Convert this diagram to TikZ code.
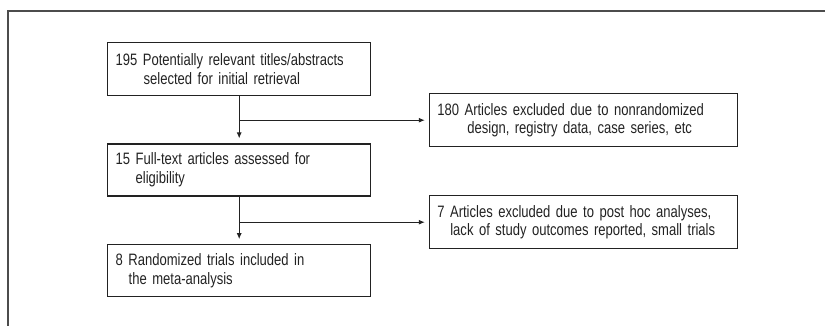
\documentclass[tikz,border=0pt]{standalone}
\usepackage{fontspec}
\setmainfont[FakeStretch=0.79]{Liberation Sans}
\usetikzlibrary{arrows.meta}
\definecolor{ink}{HTML}{222222}
\tikzset{
  flowbox/.style={draw=ink, line width=1.1pt, rectangle, align=left, anchor=center,
    inner xsep=8pt, inner ysep=0pt, text=ink,
    font=\fontsize{16.5pt}{18.7pt}\selectfont},
  conn/.style={draw=ink, line width=1pt, -{Latex[length=6pt,width=5pt]}},
}
\begin{document}
\begin{tikzpicture}[x=1pt,y=-1pt]
\useasboundingbox (0,0) rectangle (825,326);
\draw[line width=1.5pt, draw=black!70] (8,326) -- (8,11) -- (825,11);
\node[flowbox, minimum width=263pt, minimum height=53pt, text width=247pt] (b1) at (239.2,69.2)
  {195 Potentially relevant titles/abstracts\\\hspace*{28pt}selected for initial retrieval};
\node[flowbox, minimum width=263pt, minimum height=52pt, text width=247pt] (b2) at (239.2,170)
  {15 Full-text articles assessed for\\\hspace*{20pt}eligibility};
\node[flowbox, minimum width=263pt, minimum height=52pt, text width=247pt] (b3) at (239.2,270.7)
  {8 Randomized trials included in\\\hspace*{13pt}the meta-analysis};
\node[flowbox, minimum width=307.7pt, minimum height=53pt, text width=291.7pt] (r1) at (583.2,120.2)
  {180 Articles excluded due to nonrandomized\\\hspace*{30pt}design, registry data, case series, etc};
\node[flowbox, minimum width=307.7pt, minimum height=53pt, text width=291.7pt] (r2) at (583.2,222.2)
  {7 Articles excluded due to post hoc analyses,\\\hspace*{13pt}lack of study outcomes reported, small trials};
\draw[conn, shorten >=5pt] (b1.south) -- (b2.north);
\draw[conn, shorten >=5pt] (b2.south) -- (b3.north);
\draw[conn, shorten >=4pt] (b1.south |- r1.west) -- (r1.west);
\draw[conn, shorten >=4pt] (b2.south |- r2.west) -- (r2.west);
\end{tikzpicture}
\end{document}
